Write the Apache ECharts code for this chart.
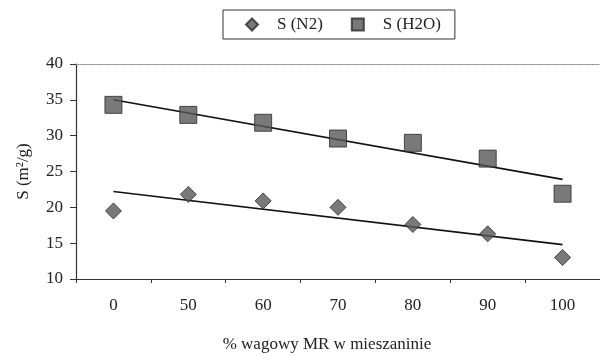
<!DOCTYPE html>
<html>
<head>
<meta charset="utf-8">
<script src="https://cdn.jsdelivr.net/npm/echarts@6/dist/echarts.min.js"></script>
<style>
  html, body { margin: 0; padding: 0; background: #fff; }
  #chart { width: 600px; height: 358px; }
</style>
</head>
<body>
<div id="chart"></div>
<script>
// kategorie osi X (% wagowy MR)
var categories = ['0', '50', '60', '70', '80', '90', '100'];
// powierzchnia wlasciwa
var sN2 = [19.5, 21.8, 20.9, 20.0, 17.6, 16.3, 13.0];
var sH2O = [34.3, 32.9, 31.8, 29.6, 29.0, 26.8, 21.9];
// linie trendu (poczatek / koniec)
var trendN2 = [22.2, 14.8];
var trendH2O = [35.0, 23.9];
var yTicks = [10, 40, 5];

var serif = 'Liberation Serif';
var chart = echarts.init(document.getElementById('chart'));

function trendData(t) {
  return [[categories[0], t[0]], [categories[categories.length - 1], t[1]]];
}

chart.setOption({
  animation: false,
  textStyle: { fontFamily: serif },
  legend: {
    data: [
      { name: 'S (N2)', icon: 'diamond' },
      { name: 'S (H2O)', icon: 'rect' }
    ],
    left: 223,
    top: 10,
    borderColor: '#333',
    borderWidth: 1,
    padding: [6, 14, 6, 22],
    itemGap: 28,
    itemWidth: 12,
    itemHeight: 12,
    textStyle: { fontFamily: serif, fontSize: 17, color: '#222', padding: [0, 0, 0, 14] }
  },
  grid: { left: 76, top: 64, width: 531, bottom: 74 },
  xAxis: [{
    type: 'category',
    data: categories,
    boundaryGap: true,
    position: 'bottom',
    axisLine: { lineStyle: { color: '#333', width: 1.2 } },
    axisTick: { show: true, length: 4, lineStyle: { color: '#333' } },
    axisLabel: { fontFamily: serif, fontSize: 17, color: '#222', margin: 18 },
    name: '% wagowy MR w mieszaninie',
    nameLocation: 'middle',
    nameGap: 57,
    nameTextStyle: { fontFamily: serif, fontSize: 17, color: '#222', padding: [0, 22, 0, 0] }
  }, {
    type: 'category',
    data: categories,
    position: 'top',
    axisLine: { lineStyle: { color: '#888', width: 1, type: 'dotted' } },
    axisTick: { show: false },
    axisLabel: { show: false }
  }],
  yAxis: {
    type: 'value',
    min: yTicks[0],
    max: yTicks[1],
    interval: yTicks[2],
    axisLine: { show: true, lineStyle: { color: '#333', width: 1.2 } },
    axisTick: { show: true, length: 6, lineStyle: { color: '#333' } },
    splitLine: { show: false },
    axisLabel: { fontFamily: serif, fontSize: 17, color: '#222', margin: 13 },
    name: 'S (m²/g)',
    nameLocation: 'middle',
    nameGap: 44,
    nameRotate: 90,
    nameTextStyle: { fontFamily: serif, fontSize: 17, color: '#222' }
  },
  series: [
    {
      name: 'S (N2)',
      type: 'scatter',
      symbol: 'diamond',
      symbolSize: 16,
      data: sN2,
      itemStyle: { color: '#585858', borderColor: '#2a2a2a', borderWidth: 1 },
      z: 3
    },
    {
      name: 'S (H2O)',
      type: 'scatter',
      symbol: 'rect',
      symbolSize: 17,
      data: sH2O,
      itemStyle: { color: '#585858', borderColor: '#2a2a2a', borderWidth: 1 },
      z: 3
    },
    {
      name: 'trend N2',
      type: 'line',
      data: trendData(trendN2),
      symbol: 'none',
      lineStyle: { color: '#111', width: 1.6 },
      z: 2
    },
    {
      name: 'trend H2O',
      type: 'line',
      data: trendData(trendH2O),
      symbol: 'none',
      lineStyle: { color: '#111', width: 1.6 },
      z: 2
    }
  ]
});
</script>
</body>
</html>
